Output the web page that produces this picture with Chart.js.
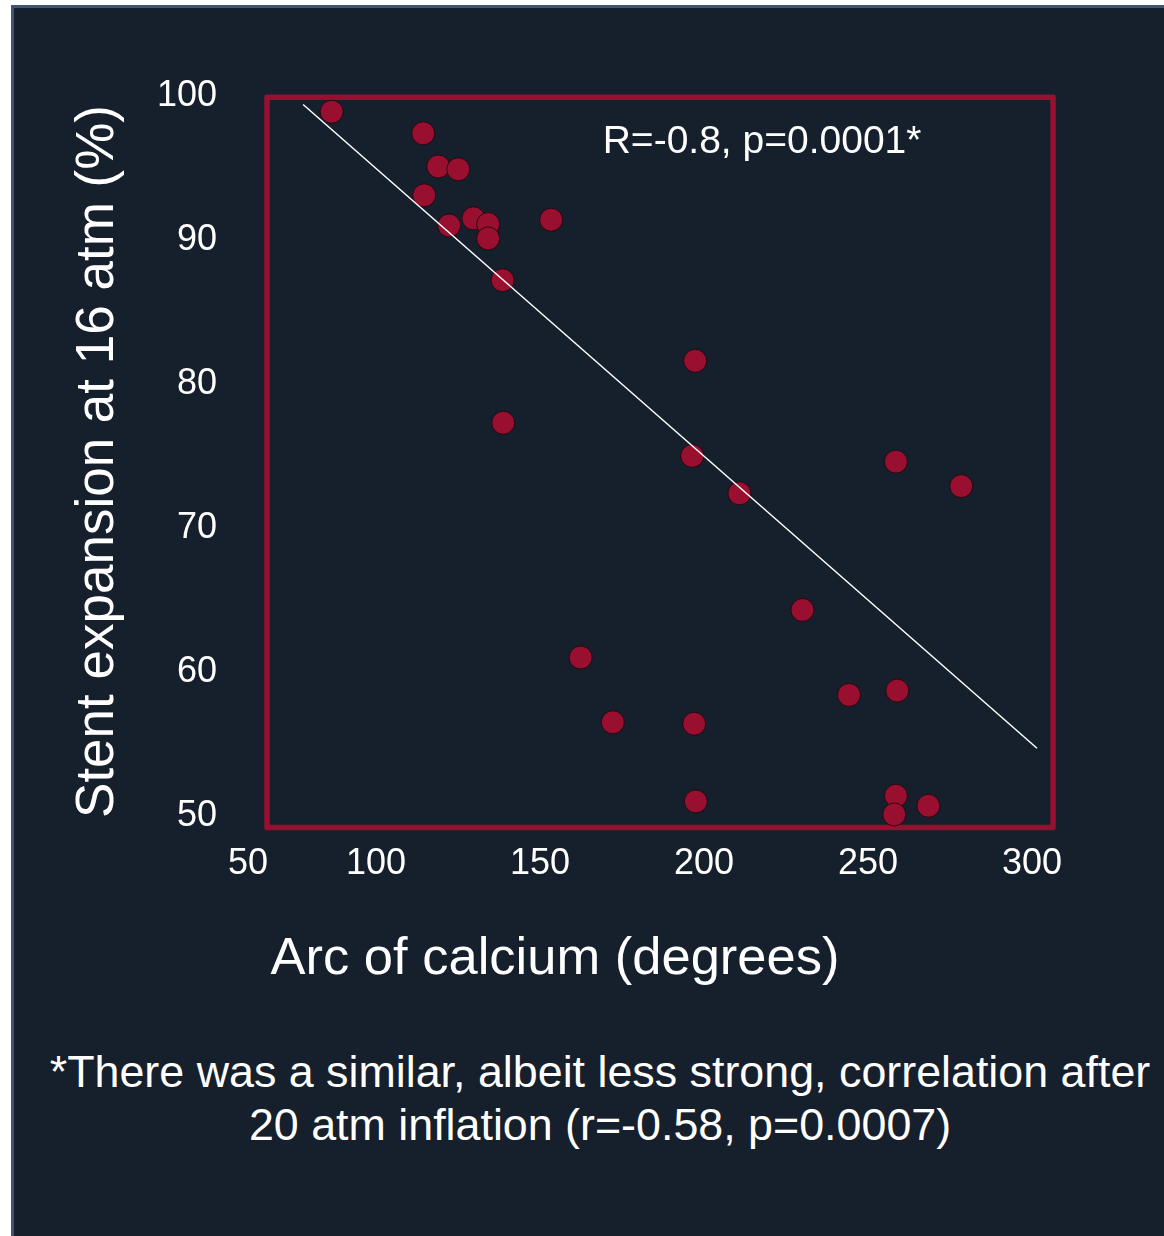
<!DOCTYPE html>
<html>
<head>
<meta charset="utf-8">
<script src="https://cdn.jsdelivr.net/npm/chart.js@4.4.1/dist/chart.umd.min.js"></script>
<style>
    html, body { margin: 0; padding: 0; background: #ffffff; overflow: hidden; }
    #panel {
        position: absolute; left: 11px; top: 5px; width: 1150px; height: 1228px;
        background: #161f2c; border-left: 3px solid #3d5676; border-top: 3px solid #3d5676;
    }
    #wrap { position: absolute; left: 0; top: 0; width: 1164px; height: 1000px; }
    #footnote {
        position: absolute; left: 30px; top: 1045px; width: 1140px;
        font-family: "Liberation Sans", Arial, sans-serif; font-size: 44.8px; line-height: 53px;
        color: #ffffff; text-align: center;
    }
</style>
</head>
<body>
<div id="panel"></div>
<div id="wrap"><canvas id="calciumChart" width="1164" height="1000"></canvas></div>
<div id="footnote">*There was a similar, albeit less strong, correlation after<br>20 atm inflation (r=-0.58, p=0.0007)</div>

<script>
// arc of calcium (degrees) vs stent expansion at 16 atm (%)
const arcCalcium = [86.5, 114.4, 119.0, 125.1, 114.7, 122.3, 129.7, 134.2, 134.2, 153.4,
    138.6, 197.3, 138.8, 196.4, 210.8, 258.5, 278.4, 230.0, 162.4, 172.2,
    197.0, 244.2, 258.9, 197.5, 258.5, 258.0, 268.4];
const stentExpansion = [98.7, 97.2, 94.9, 94.7, 92.9, 90.8, 91.3, 90.9, 89.9, 91.2,
    87.0, 81.4, 77.1, 74.8, 72.2, 74.4, 72.7, 64.1, 60.8, 56.3,
    56.2, 58.2, 58.5, 50.8, 51.2, 49.9, 50.5];

// fitted line ends
const trendX = [77.8, 301.5];
const trendY = [99.2, 54.5];

const xTickLabels = ['50', '100', '150', '200', '250', '300'];
const xTickValues = [100, 150, 200, 250, 300];
const yTickLabels = ['50', '60', '70', '80', '90', '100'];

const statText = 'R=-0.8, p=0.0001*';

const RED = '#990f2f';
const FONT = '"Liberation Sans", Arial, sans-serif';

// red frame round the plot + the R/p note
const framePlugin = {
    id: 'framePlugin',
    beforeDatasetsDraw(chart) {
        const { ctx, scales: { x, y } } = chart;
        const l = x.getPixelForValue(66.8), r = x.getPixelForValue(306.4);
        const t = y.getPixelForValue(99.7), b = y.getPixelForValue(49.0);
        ctx.save();
        ctx.strokeStyle = RED;
        ctx.lineWidth = 5.5;
        ctx.lineJoin = 'round';
        ctx.strokeRect(l, t, r - l, b - t);
        ctx.restore();
    },
    afterDatasetsDraw(chart) {
        const { ctx, scales: { x, y } } = chart;
        ctx.save();
        ctx.fillStyle = '#ffffff';
        ctx.font = '39px ' + FONT;
        ctx.textAlign = 'center';
        ctx.textBaseline = 'middle';
        ctx.fillText(statText, x.getPixelForValue(217.7), y.getPixelForValue(96.55));
        ctx.restore();
    }
};

const points = arcCalcium.map((v, i) => ({ x: v, y: stentExpansion[i] }));
const trend = trendX.map((v, i) => ({ x: v, y: trendY[i] }));

new Chart(document.getElementById('calciumChart'), {
    type: 'scatter',
    data: {
        datasets: [{
            label: 'Fit',
            data: trend,
            showLine: true,
            borderColor: '#ffffff',
            borderWidth: 1.5,
            pointRadius: 0,
            order: 0
        }, {
            label: 'Patients',
            data: points,
            backgroundColor: RED,
            borderColor: 'rgba(30,8,16,0.9)',
            borderWidth: 1,
            pointRadius: 11.5,
            order: 1
        }]
    },
    options: {
        responsive: false,
        animation: false,
        events: [],
        devicePixelRatio: 1,
        layout: { padding: { left: 53, right: 107, top: 93, bottom: 9 } },
        plugins: {
            legend: { display: false },
            tooltip: { enabled: false },
            title: {
                display: true,
                position: 'bottom',
                text: 'Arc of calcium (degrees)',
                color: '#ffffff',
                font: { family: FONT, size: 52.5, weight: 'normal' },
                padding: { top: 38, bottom: 0 }
            }
        },
        scales: {
            x: {
                type: 'linear',
                min: 61,
                max: 307.6,
                grid: { display: false, drawTicks: false },
                border: { display: false },
                ticks: {
                    color: '#ffffff',
                    font: { family: FONT, size: 36 },
                    padding: 12,
                    maxRotation: 0,
                    callback: (v, i) => xTickLabels[i]
                },
                afterBuildTicks: s => {
                    s.ticks = [s.min].concat(xTickValues).map(v => ({ value: v }));
                },
                afterFit: s => { s.height = 60; }
            },
            y: {
                type: 'linear',
                min: 48.82,
                max: 100,
                grid: { display: false, drawTicks: false },
                border: { display: false },
                title: {
                    display: true,
                    text: 'Stent expansion at 16 atm (%)',
                    color: '#ffffff',
                    font: { family: FONT, size: 53, weight: 'normal' },
                    padding: { top: 14, bottom: 0 }
                },
                ticks: {
                    color: '#ffffff',
                    font: { family: FONT, size: 36 },
                    padding: 31,
                    labelOffset: 3,
                    callback: (v, i) => yTickLabels[i]
                },
                afterBuildTicks: s => {
                    s.ticks = yTickLabels.map(t => ({ value: Number(t) }));
                },
                afterFit: s => { s.width = 195; }
            }
        }
    },
    plugins: [framePlugin]
});
</script>
</body>
</html>
